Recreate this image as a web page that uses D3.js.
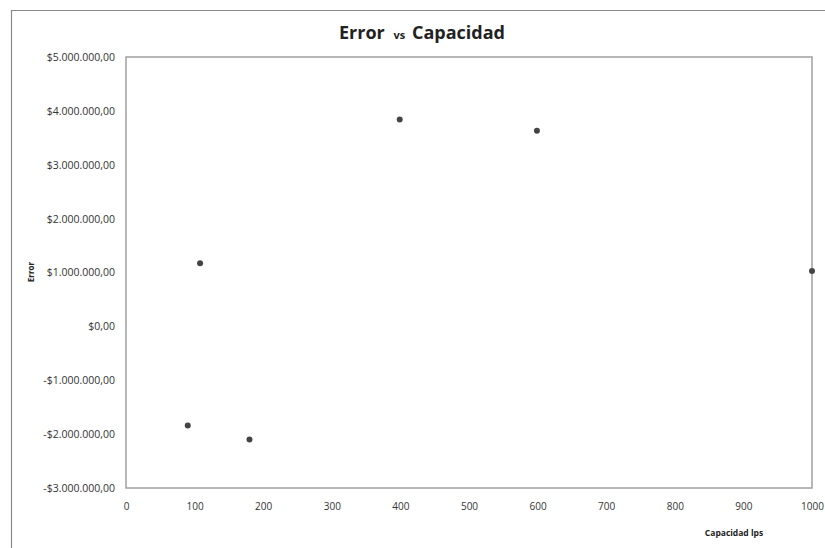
<!DOCTYPE html>
<html>
<head>
<meta charset="utf-8">
<script src="https://cdn.jsdelivr.net/npm/d3@7"></script>
<style>
  html, body { margin: 0; padding: 0; background: #fff; }
  svg { display: block; }
</style>
</head>
<body>
<svg id="chart" width="825" height="548"></svg>
<script>
// Capacity (lps) against error ($)
const capacidad = [90, 180, 108, 399, 599, 1000];
const error = [-1840000, -2100000, 1170000, 3840000, 3630000, 1030000];
const xTicks = [0, 100, 200, 300, 400, 500, 600, 700, 800, 900, 1000];
const yTicks = [5000000, 4000000, 3000000, 2000000, 1000000, 0, -1000000, -2000000, -3000000];

const svg = d3.select("#chart");
const W = 825, H = 548;
const plot = { left: 126, top: 57, right: 812, bottom: 488 };

const font = "'Open Sans', 'Liberation Sans', sans-serif";

// Chart area frame
svg.append("path")
  .attr("d", `M11.5,${H + 2}V10.5H${W + 2}`)
  .attr("fill", "none")
  .attr("stroke", "#8a8a8a")
  .attr("stroke-width", 1.2);

const x = d3.scaleLinear().domain([0, 1000]).range([plot.left, plot.right]);
const y = d3.scaleLinear().domain([-3000000, 5000000]).range([plot.bottom, plot.top]);

const locale = d3.formatLocale({
  decimal: ",", thousands: ".", grouping: [3], currency: ["$", ""], minus: "-"
});
const money = locale.format("$,.2f");

// Plot area border
svg.append("rect")
  .attr("x", plot.left).attr("y", plot.top)
  .attr("width", plot.right - plot.left).attr("height", plot.bottom - plot.top)
  .attr("fill", "none")
  .attr("stroke", "#a0a0a0")
  .attr("stroke-width", 1.5);

// Y axis labels
const yAxis = svg.append("g")
  .attr("transform", `translate(${plot.left},0)`)
  .call(d3.axisLeft(y).tickValues(yTicks).tickSize(0).tickPadding(11).tickFormat(money));
yAxis.select(".domain").remove();
yAxis.selectAll("text")
  .attr("font-family", font).attr("font-size", 10.5).attr("fill", "#333");

// X axis labels
const xAxis = svg.append("g")
  .attr("transform", `translate(0,${plot.bottom})`)
  .call(d3.axisBottom(x).tickValues(xTicks).tickSize(0).tickPadding(15).tickFormat(d3.format("d")));
xAxis.select(".domain").remove();
xAxis.selectAll("text")
  .attr("font-family", font).attr("font-size", 10).attr("fill", "#333");

// Points
svg.append("g").selectAll("circle")
  .data(capacidad.map((c, i) => ({ c, e: error[i] })))
  .join("circle")
  .attr("cx", d => x(d.c))
  .attr("cy", d => y(d.e))
  .attr("r", 3)
  .attr("fill", "#444");

// Title
const title = svg.append("text")
  .attr("x", 422).attr("y", 39)
  .attr("text-anchor", "middle")
  .attr("font-family", font).attr("font-weight", "bold").attr("fill", "#222");
title.append("tspan").attr("font-size", 18).text("Error ");
title.append("tspan").attr("font-size", 11).attr("dx", 4).text("vs ");
title.append("tspan").attr("font-size", 18).attr("dx", 4).text("Capacidad");

// Axis titles
svg.append("text")
  .attr("transform", "translate(34,272) rotate(-90)")
  .attr("text-anchor", "middle")
  .attr("font-family", font).attr("font-weight", "bold").attr("font-size", 8).attr("fill", "#222")
  .text("Error");

svg.append("text")
  .attr("x", 734).attr("y", 536)
  .attr("text-anchor", "middle")
  .attr("font-family", font).attr("font-weight", "bold").attr("font-size", 8.5).attr("fill", "#222")
  .text("Capacidad lps");
</script>
</body>
</html>
